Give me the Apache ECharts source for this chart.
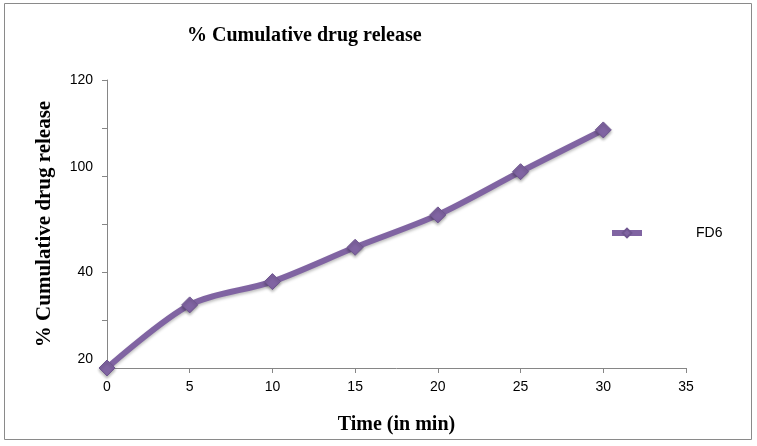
<!DOCTYPE html>
<html><head><meta charset="utf-8">
<script src="https://cdn.jsdelivr.net/npm/echarts@6/dist/echarts.min.js"></script>
<style>html,body{margin:0;padding:0;background:#fff}#c{width:757px;height:446px}</style>
</head><body><div id="c"></div>
<script>
const times = [0, 5, 10, 15, 20, 25, 30];
const fd6 = [0, 26.3, 36.0, 50.3, 63.8, 81.8, 99.2];
const yTickLabels = ['20', '', '40', '', '100', '', '120'];
const yTickRaised = [true, false, false, false, true, false, false];

const chart = echarts.init(document.getElementById('c'));
chart.setOption({
  backgroundColor: '#fff',
  animation: false,
  graphic: [{
    type: 'rect', shape: {x: 4.5, y: 3.5, width: 747, height: 436},
    style: {fill: 'none', stroke: '#8a8a8a', lineWidth: 1}, silent: true
  }],
  title: {
    text: '% Cumulative drug release', left: 182, top: 21,
    textStyle: {fontFamily: 'Liberation Serif', fontWeight: 'bold', fontSize: 20, color: '#000'}
  },
  legend: {
    left: 609, top: 226, padding: 0, itemWidth: 30, itemHeight: 11,
    data: ['FD6'],
    lineStyle: {width: 6},
    textStyle: {fontFamily: 'Liberation Sans', fontSize: 14, color: '#000', padding: [0, 0, 0, 49]}
  },
  grid: {left: 107, right: 71, top: 80, bottom: 78, containLabel: false},
  xAxis: {
    type: 'value', min: 0, max: 35, interval: 5,
    name: 'Time (in min)', nameLocation: 'middle', nameGap: 47,
    nameTextStyle: {fontFamily: 'Liberation Serif', fontWeight: 'bold', fontSize: 20, color: '#000'},
    axisLine: {lineStyle: {color: '#868686'}},
    axisTick: {show: true, length: 5, lineStyle: {color: '#868686'}},
    axisLabel: {fontFamily: 'Liberation Sans', fontSize: 14, color: '#000', margin: 12},
    splitLine: {show: false}
  },
  yAxis: {
    type: 'value', min: 0, max: 120, interval: 20,
    name: '% Cumulative drug release', nameLocation: 'middle', nameGap: 52, nameRotate: 90,
    nameTextStyle: {fontFamily: 'Liberation Serif', fontWeight: 'bold', fontSize: 21, color: '#000'},
    axisLine: {show: true, lineStyle: {color: '#868686'}},
    axisTick: {show: true, length: 5, lineStyle: {color: '#868686'}},
    axisLabel: {
      fontFamily: 'Liberation Sans', fontSize: 14, color: '#000', margin: 14,
      formatter: function (v) {
        const i = Math.round(v / 20);
        const t = yTickLabels[i] || '';
        if (!t) return '';
        return yTickRaised[i] ? '{up|' + t + '}' : t;
      },
      rich: {up: {fontFamily: 'Liberation Sans', fontSize: 14, color: '#000', padding: [0, 0, 18, 0]}}
    },
    splitLine: {show: false}
  },
  series: [{
    name: 'FD6', type: 'line', smooth: 0.3,
    data: times.map((t, i) => [t, fd6[i]]),
    symbol: 'diamond', symbolSize: 16,
    lineStyle: {color: '#8064A2', width: 6, shadowColor: 'rgba(0,0,0,0.25)', shadowBlur: 3, shadowOffsetY: 2},
    itemStyle: {color: '#8064A2', borderColor: '#6f5690', borderWidth: 1, shadowColor: 'rgba(0,0,0,0.3)', shadowBlur: 3, shadowOffsetY: 2}
  }]
});
</script></body></html>
